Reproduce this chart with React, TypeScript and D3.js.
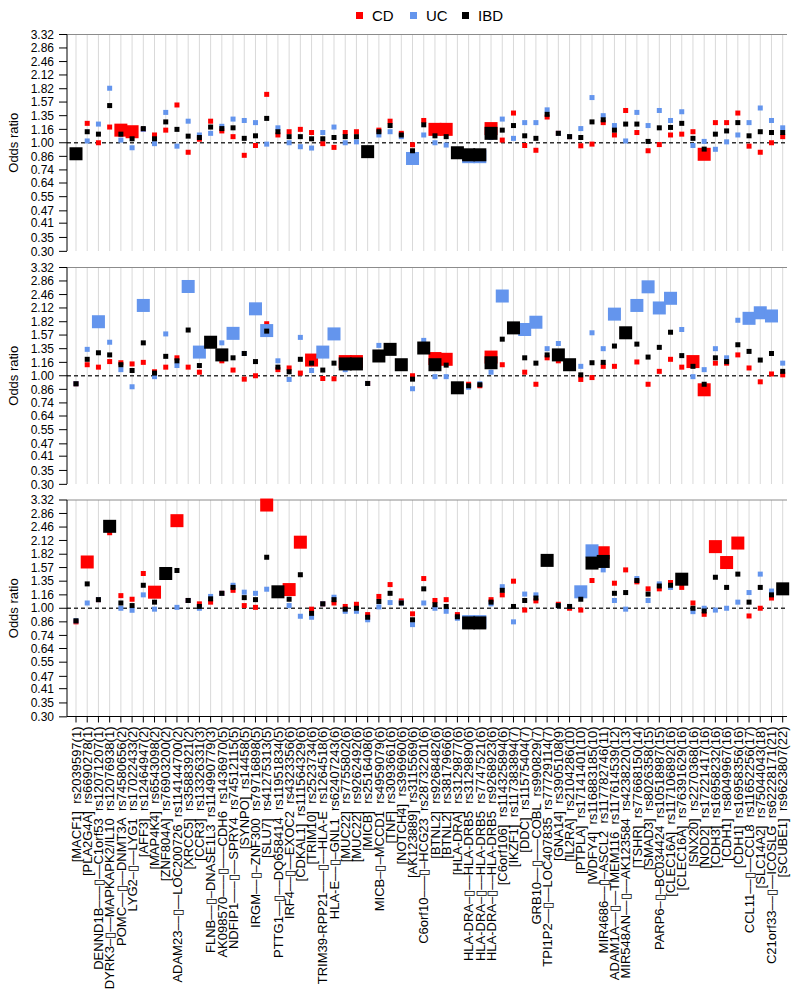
import React from 'react';
import * as d3 from 'd3';

const labels = [
  '[MACF1]  rs2039597(1)',
  '[PLA2G4A]  rs6690278(1)',
  'DENND1B–––▯––C1orf53  rs12071207(1)',
  'DYRK3–▯––MAPKAPK2/IL10  rs12076938(1)',
  'POMC––▯––DNMT3A  rs74580656(2)',
  'LYG2–▯––LYG1  rs17022433(2)',
  '[AFF3]  rs12464947(2)',
  '[MAP4K4]  rs6543098(2)',
  '[ZNF804A]  rs76903200(2)',
  'ADAM23––▯––LOC200726  rs114144700(2)',
  '[XRCC5]  rs35883921(2)',
  '[CCR3]  rs13326331(3)',
  'FLNB––▯–DNASE1L3  rs114990779(3)',
  'AK098570–––▯–––CDH6  rs1436970(5)',
  'NDFIP1–––▯––SPRY4  rs74512115(5)',
  '[SYNPO]  rs14458(5)',
  'IRGM––▯–ZNF300  rs79716898(5)',
  '[SLU7]  rs41275313(5)',
  'PTTG1––▯––DQ658414  rs11951834(5)',
  'IRF4––▯––EXOC2  rs4323356(6)',
  '[CDKAL1]  rs111564329(6)',
  '[TRIM10]  rs2523734(6)',
  'TRIM39-RPP21–––▯––HLA-E  rs1264518(6)',
  'HLA-E––▯–GNL1  rs62407243(6)',
  '[MUC22]  rs7755802(6)',
  '[MUC22]  rs9262492(6)',
  '[MICB]  rs2516408(6)',
  'MICB–▯–MCCD1  rs4959079(6)',
  '[TNF]  rs3093661(6)',
  '[NOTCH4]  rs396960(6)',
  '[AK123889]  rs3115569(6)',
  'C6orf10–––▯–HCG23  rs28732201(6)',
  '[BTNL2]  rs9268482(6)',
  '[BTNL2]  rs3817966(6)',
  '[HLA-DRA]  rs3129877(6)',
  'HLA-DRA–▯––HLA-DRB5  rs3129890(6)',
  'HLA-DRA–▯––HLA-DRB5  rs7747521(6)',
  'HLA-DRA–▯––HLA-DRB5  rs9268923(6)',
  '[C6orf106]  rs114325894(6)',
  '[IKZF1]  rs117383894(7)',
  '[DDC]  rs11575404(7)',
  'GRB10––▯–––COBL  rs990829(7)',
  'TPI1P2––▯––LOC407835  rs77729114(7)',
  '[GNA14]  rs3905108(9)',
  '[IL2RA]  rs2104286(10)',
  '[PTPLA]  rs17141401(10)',
  '[WDFY4]  rs116883185(10)',
  'MIR4686––▯–ASCL2  rs117782746(11)',
  'ADAM1A––▯––TMEM116  rs117614539(12)',
  'MIR548AN––▯––AK123584  rs4238220(13)',
  '[TSHR]  rs77668150(14)',
  '[SMAD3]  rs8026358(15)',
  'PARP6–▯–BC034424  rs10518987(15)',
  '[CLEC16A]  rs117106892(16)',
  '[CLEC16A]  rs76391629(16)',
  '[SNX20]  rs2270368(16)',
  '[NOD2]  rs17221417(16)',
  '[CDH3]  rs16958232(16)',
  '[CDH1]  rs8049967(16)',
  '[CDH1]  rs16958356(16)',
  'CCL11––▯––CCL8  rs11652256(17)',
  '[SLC14A2]  rs75044043(18)',
  'C21orf33––▯––ICOSLG  rs62228171(21)',
  '[SCUBE1]  rs9623807(22)',
];

const yTicks = [3.32, 2.86, 2.46, 2.12, 1.82, 1.57, 1.35, 1.16, 1.0, 0.86, 0.74, 0.64, 0.55, 0.47, 0.41, 0.35, 0.3];

const seriesNames = ['CD', 'UC', 'IBD'];
const seriesColors = ['#ff0000', '#6495ed', '#000000'];

// Panel 1
const p1CD = [0.885,1.24,1.00,1.19,1.15,1.13,1.16,1.09,1.15,1.52,0.90,1.04,1.27,1.14,1.07,0.87,0.97,1.71,1.09,1.13,1.16,1.12,0.99,0.95,1.12,1.13,0.906,1.15,1.27,1.11,0.978,1.28,1.16,1.16,0.895,0.875,0.875,1.17,1.03,1.39,0.97,0.92,1.33,1.11,1.07,0.967,0.985,1.25,1.09,1.43,1.12,0.915,0.98,1.09,1.10,1.13,0.88,1.25,1.25,1.39,0.963,0.90,1.00,1.07];
const p1UC = [0.885,1.02,1.23,1.83,1.03,0.946,1.16,0.99,1.40,0.963,1.27,1.09,1.11,1.20,1.30,1.28,1.25,0.985,1.18,1.00,0.957,0.943,1.12,1.19,1.00,1.01,0.906,1.09,1.13,1.07,0.84,1.09,1.00,0.975,0.895,0.857,0.857,1.06,1.30,1.05,1.25,1.25,1.44,1.11,1.07,1.17,1.65,1.35,1.21,1.02,1.40,1.21,1.43,1.28,1.41,0.97,1.015,0.93,1.01,1.09,1.25,1.47,1.28,1.18];
const p1IBD = [0.885,1.13,1.10,1.51,1.10,1.045,1.17,1.045,1.26,1.16,1.076,1.06,1.19,1.17,1.18,1.05,1.08,1.31,1.13,1.07,1.07,1.045,1.045,1.06,1.07,1.07,0.906,1.13,1.21,1.09,0.915,1.22,1.08,1.07,0.895,0.875,0.875,1.11,1.15,1.21,1.08,1.05,1.37,1.11,1.07,1.06,1.26,1.29,1.15,1.23,1.23,1.015,1.18,1.185,1.24,1.05,0.932,1.10,1.14,1.25,1.08,1.13,1.12,1.12];
const p1CDBig = [4, 5, 32, 33, 37, 56];
const p1UCBig = [30, 35, 36];
const p1IBDBig = [0, 26, 34, 35, 36, 37];

// Panel 2
const p2CD = [0.915,1.13,1.10,1.17,1.155,1.14,1.16,1.045,1.10,1.22,1.10,1.04,1.45,1.18,1.065,0.963,1.00,1.78,1.07,1.09,1.03,1.19,0.97,0.967,1.17,1.17,0.918,1.245,1.34,1.13,1.00,1.36,1.21,1.20,0.875,0.91,0.895,1.23,1.13,1.70,1.04,0.91,1.22,1.18,1.13,0.96,0.98,1.11,1.11,1.61,1.165,0.91,1.05,1.20,1.10,1.17,0.856,1.15,1.15,1.26,1.09,0.935,1.02,1.01];
const p2UC = [0.915,1.34,1.82,1.45,1.07,0.885,2.18,0.99,1.59,1.12,2.69,1.30,1.45,1.44,1.60,1.28,2.10,1.65,1.18,0.96,1.53,1.06,1.30,1.59,1.07,1.14,0.918,1.40,1.34,1.13,0.866,1.48,0.99,0.99,0.875,0.88,0.915,1.04,2.42,1.70,1.67,1.81,1.35,1.43,1.13,1.11,1.61,1.35,1.98,1.61,2.18,2.68,2.12,2.36,1.67,0.99,1.07,1.35,1.22,1.85,1.89,2.01,1.94,1.15];
const p2IBD = [0.915,1.20,1.29,1.26,1.13,1.06,1.44,1.03,1.24,1.18,1.66,1.12,1.45,1.26,1.22,1.28,1.17,1.64,1.10,1.045,1.20,1.15,1.065,1.15,1.14,1.14,0.918,1.245,1.34,1.13,0.963,1.36,1.13,1.125,0.875,0.895,0.905,1.155,1.50,1.70,1.22,1.15,1.26,1.26,1.13,1.01,1.155,1.16,1.39,1.61,1.42,1.23,1.37,1.62,1.25,1.11,0.91,1.22,1.17,1.41,1.31,1.19,1.28,1.05];
const p2CDBig = [21, 24, 25, 32, 33, 37, 55, 56];
const p2UCBig = [2, 6, 10, 11, 14, 16, 17, 22, 23, 38, 40, 41, 48, 50, 51, 52, 53, 60, 61, 62];
const p2IBDBig = [12, 13, 24, 25, 27, 28, 29, 31, 32, 34, 37, 39, 43, 44, 49];

// Panel 3
const p3CD = [0.86,1.67,1.10,2.31,1.15,1.105,1.47,1.195,1.47,2.64,1.09,1.05,1.07,1.18,1.22,1.03,1.01,3.14,1.20,1.23,2.08,0.99,1.05,1.06,1.02,1.045,0.932,1.14,1.30,1.085,0.94,1.39,1.09,1.10,0.932,0.85,0.85,1.10,1.16,1.35,0.98,1.085,1.70,1.045,1.00,0.98,1.36,1.85,1.32,1.53,1.34,1.24,1.24,1.33,1.26,1.06,0.935,1.98,1.66,2.06,0.918,1.00,1.12,1.24];
const p3UC = [0.87,1.06,1.10,2.45,1.00,0.978,1.16,0.99,1.47,1.01,1.09,1.00,1.14,1.18,1.29,1.195,1.18,1.235,1.20,1.03,0.915,0.905,1.05,1.13,0.967,0.967,0.88,1.015,1.065,1.06,0.834,1.06,1.00,0.967,0.895,0.862,0.862,1.05,1.27,0.86,1.17,1.16,1.70,1.03,1.02,1.20,1.89,1.53,1.09,0.99,1.39,1.09,1.31,1.26,1.40,0.963,1.00,0.98,1.00,1.07,1.19,1.46,1.21,1.24];
const p3IBD = [0.87,1.31,1.10,2.48,1.06,1.03,1.29,1.07,1.47,1.52,1.09,1.02,1.11,1.18,1.26,1.125,1.10,1.76,1.20,1.105,1.45,0.945,1.05,1.10,0.99,1.00,0.905,1.078,1.18,1.06,0.88,1.24,1.04,1.02,0.91,0.85,0.85,1.07,1.22,1.02,1.09,1.12,1.70,1.03,1.02,1.105,1.65,1.68,1.18,1.19,1.36,1.17,1.28,1.29,1.38,1.00,0.97,1.41,1.26,1.46,1.07,1.26,1.16,1.24];
const p3CDBig = [1, 7, 9, 17, 19, 20, 47, 57, 58, 59];
const p3UCBig = [35, 36, 45, 46];
const p3IBDBig = [3, 8, 18, 35, 36, 42, 46, 47, 54, 63];

const panels = [
  { series: [p1CD, p1UC, p1IBD], big: [p1CDBig, p1UCBig, p1IBDBig] },
  { series: [p2CD, p2UC, p2IBD], big: [p2CDBig, p2UCBig, p2IBDBig] },
  { series: [p3CD, p3UC, p3IBD], big: [p3CDBig, p3UCBig, p3IBDBig] },
];

const W = 800;
const H = 997;
const left = 67;
const right = 787;
const panelTops = [34.5, 267.5, 500];
const panelH = 216.5;
const SMALL = 5;
const BIG = 13;
const FONT = 'Liberation Sans, Arial, Helvetica, sans-serif';

export default function App() {
  const x = d3.scalePoint<number>().domain(d3.range(labels.length)).range([76, 782.7]);
  const lnMax = 1.2;

  return (
    <svg width={W} height={H} style={{ display: 'block', position: 'absolute', left: 0, top: 0 }} fontFamily={FONT}>
      <rect width={W} height={H} fill="#fff" />
      {seriesNames.map((s, k) => {
        const lx = [356, 410, 462][k];
        return (
          <g key={s}>
            <rect x={lx} y={12} width={7} height={7} fill={seriesColors[k]} />
            <text x={lx + 16} y={21} fontSize={15} fill="#000">{s}</text>
          </g>
        );
      })}
      {panels.map((p, pi) => {
        const top = panelTops[pi];
        const bottom = top + panelH;
        const y = d3.scaleLog().domain([Math.exp(-lnMax), Math.exp(lnMax)]).range([bottom, top]);
        return (
          <g key={pi}>
            {labels.map((_, i) => (
              <line key={i} x1={x(i)} x2={x(i)} y1={top} y2={bottom} stroke="#d9d9d9" strokeWidth={1} />
            ))}
            <line x1={left} x2={right} y1={top} y2={top} stroke="#8c8c8c" strokeWidth={1} />
            <line x1={left} x2={right} y1={y(1)} y2={y(1)} stroke="#333" strokeWidth={1.5} strokeDasharray="4,3" />
            <line x1={left} x2={left} y1={top} y2={bottom} stroke="#000" strokeWidth={1} />
            {yTicks.map((t) => (
              <g key={t}>
                <line x1={left - 8} x2={left} y1={y(t)} y2={y(t)} stroke="#000" strokeWidth={1} />
                <text x={left - 13} y={y(t)} dy="0.35em" textAnchor="end" fontSize={12} fill="#000">
                  {t.toFixed(2)}
                </text>
              </g>
            ))}
            <text
              transform={`translate(18,${y(1)}) rotate(-90)`}
              textAnchor="middle"
              fontSize={13}
              fill="#000"
            >
              Odds ratio
            </text>
            {p.series.map((vals, si) => (
              <g key={si}>
                {vals.map((v, i) => {
                  const s = p.big[si].includes(i) ? BIG : SMALL;
                  return (
                    <rect
                      key={i}
                      x={(x(i) as number) - s / 2}
                      y={y(v) - s / 2}
                      width={s}
                      height={s}
                      fill={seriesColors[si]}
                    />
                  );
                })}
              </g>
            ))}
            {pi === 2 && (
              <g>
                <line x1={left} x2={right} y1={bottom} y2={bottom} stroke="#000" strokeWidth={1} />
                {labels.map((lab, i) => (
                  <g key={i}>
                    <line x1={x(i)} x2={x(i)} y1={bottom} y2={bottom + 6} stroke="#000" strokeWidth={1} />
                    <text
                      transform={`translate(${x(i)},${bottom + 10}) rotate(-90)`}
                      textAnchor="end"
                      dy="0.36em"
                      fontSize={13}
                      fill="#000"
                      style={{ whiteSpace: 'pre' }}
                    >
                      {lab}
                    </text>
                  </g>
                ))}
              </g>
            )}
          </g>
        );
      })}
    </svg>
  );
}
